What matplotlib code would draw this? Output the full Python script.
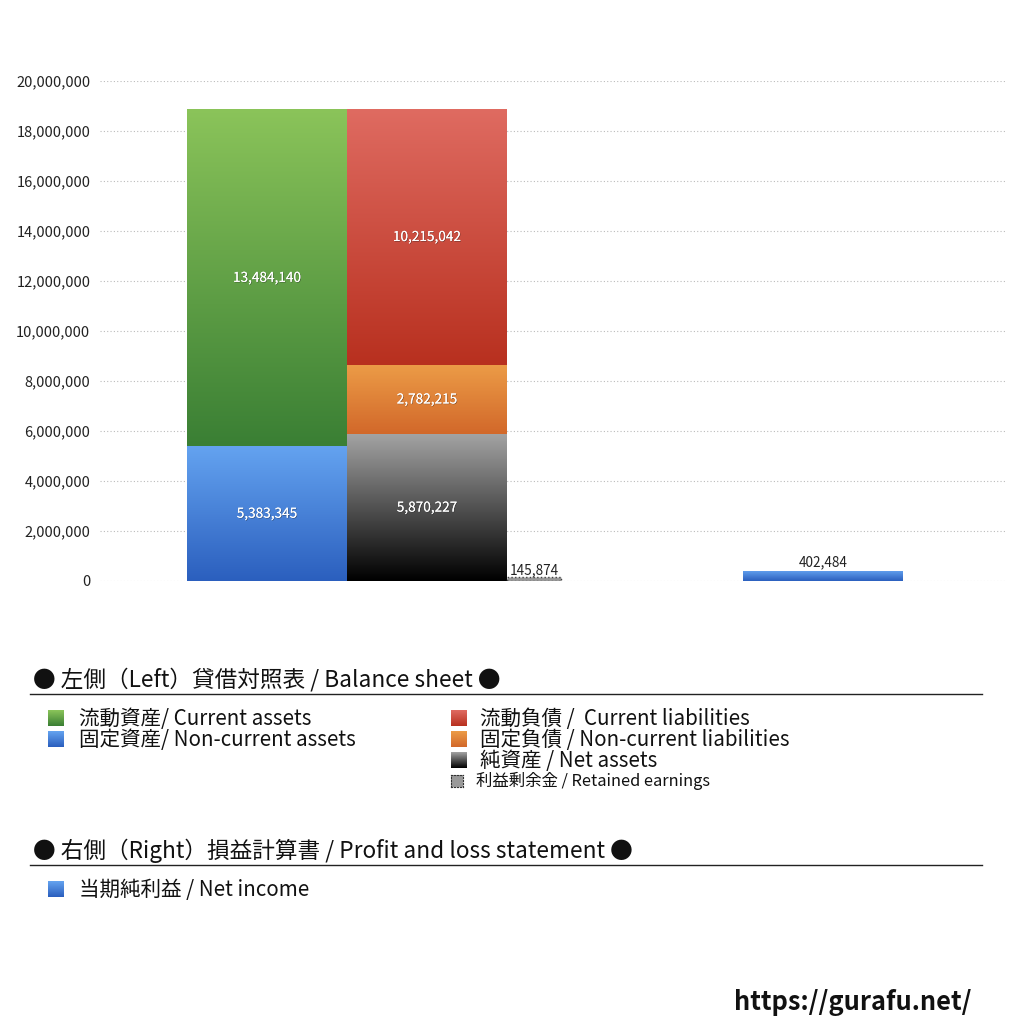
import numpy as np
import matplotlib
matplotlib.use('Agg')
import matplotlib.pyplot as plt
import matplotlib.patheffects as pe
from matplotlib.colors import LinearSegmentedColormap
from matplotlib.ticker import FuncFormatter

plt.rcParams['font.family'] = ['Noto Sans CJK JP', 'DejaVu Sans']

# 貸借対照表 (左) / 損益計算書 (右)
assets_labels = ['流動資産/ Current assets', '固定資産/ Non-current assets']
assets_values = [13484140, 5383345]          # 流動, 固定
liab_labels = ['流動負債 /  Current liabilities', '固定負債 / Non-current liabilities', '純資産 / Net assets']
liab_values = [10215042, 2782215, 5870227]   # 流動負債, 固定負債, 純資産
retained_earnings = 145874
net_income = 402484

yticks = np.arange(0, 20000001, 2000000)

# 色 (上, 下)
grad = {
    'green': ('#8bc45a', '#3a7f34'),
    'blue': ('#64a3f0', '#2b5fbe'),
    'red': ('#df6b61', '#b8301f'),
    'orange': ('#ec9c47', '#d2682a'),
    'black': ('#a3a3a3', '#000000'),
}

fig = plt.figure(figsize=(10.24, 10.24), dpi=100)
ax = fig.add_axes([100/1024, 1-581/1024, 905/1024, 500/1024])
ax.set_xlim(0, 905/160)
ax.set_ylim(0, 20000000)


def gbar(x, h, b, w, key):
    bars = ax.bar(x, h, bottom=b, width=w, align='edge', color=grad[key][1], linewidth=0, zorder=2)
    p = bars[0]
    cmap = LinearSegmentedColormap.from_list(key, [grad[key][1], grad[key][0]])
    img = ax.imshow(np.linspace(0, 1, 256).reshape(-1, 1), cmap=cmap, aspect='auto',
                    origin='lower', extent=[x, x + w, b, b + h], zorder=3)
    img.set_clip_path(p)
    return p


shadow = [pe.withSimplePatchShadow(offset=(0.5, -0.5), shadow_rgbFace='#222222', alpha=0.45), pe.Normal()]

# 左側: 資産
x1 = 87/160
bottom = 0
for val, key in zip(assets_values[::-1], ['blue', 'green']):
    gbar(x1, val, bottom, 1, key)
    ax.text(x1 + 0.5, bottom + val/2, f'{val:,}', color='white', ha='center', va='center',
            fontsize=9.8, zorder=5, path_effects=shadow)
    bottom += val

# 右側: 負債・純資産
x2 = x1 + 1
bottom = 0
for val, key in zip(liab_values[::-1], ['black', 'orange', 'red']):
    gbar(x2, val, bottom, 1, key)
    ax.text(x2 + 0.5, bottom + val/2, f'{val:,}', color='white', ha='center', va='center',
            fontsize=9.8, zorder=5, path_effects=shadow)
    bottom += val

# 利益剰余金
x3 = x2 + 1
w3 = 54/160
ax.bar(x3, retained_earnings, width=w3, align='edge', color='#9a9a9a', edgecolor='#444444',
       linestyle=':', linewidth=1, zorder=3)
ax.text(x3 + w3/2, retained_earnings, f'{retained_earnings:,}', color='#222222', ha='center',
        va='bottom', fontsize=9.8, zorder=5)

# 当期純利益
x4 = 643/160
gbar(x4, net_income, 0, 1, 'blue')
ax.text(x4 + 0.5, net_income + 60000, f'{net_income:,}', color='#222222', ha='center',
        va='bottom', fontsize=9.8, zorder=5)

ax.set_yticks(yticks)
ax.yaxis.set_major_formatter(FuncFormatter(lambda v, p: f'{int(v):,}'))
ax.tick_params(axis='y', length=0, pad=7, labelsize=10.5, labelcolor='#222222')
ax.set_xticks([])
ax.grid(axis='y', color='#bbbbbb', linestyle=(0, (1, 2)), linewidth=0.8, zorder=0)
for s in ax.spines.values():
    s.set_visible(False)


# 凡例 (figure 座標, pixel 指定)
def fx(px):
    return px/1024


def fy(py):
    return 1 - py/1024


def sq(px, py, key, size=16):
    a = fig.add_axes([fx(px), fy(py + size), size/1024, size/1024])
    a.imshow(np.linspace(0, 1, 64).reshape(-1, 1), aspect='auto', origin='lower',
             cmap=LinearSegmentedColormap.from_list('s' + key, [grad[key][1], grad[key][0]]))
    a.axis('off')


fig.text(fx(33), fy(680), '● 左側（Left）貸借対照表 / Balance sheet ●', fontsize=16.3,
         va='center', ha='left', color='#111111')
fig.add_artist(plt.Line2D([fx(30), fx(982)], [fy(694), fy(694)], color='#222222', linewidth=1))

for i, (lab, key) in enumerate(zip(assets_labels, ['green', 'blue'])):
    sq(48, 710 + i*21, key)
    fig.text(fx(79), fy(719 + i*21), lab, fontsize=14.8, va='center', color='#111111')

for i, (lab, key) in enumerate(zip(liab_labels, ['red', 'orange', 'black'])):
    sq(451, 710 + i*21, key)
    fig.text(fx(480), fy(719 + i*21), lab, fontsize=14.8, va='center', color='#111111')

ra = fig.add_axes([fx(451), fy(787), 12/1024, 12/1024])
ra.set_facecolor('#999999')
ra.set_xticks([])
ra.set_yticks([])
for s in ra.spines.values():
    s.set_linestyle(':')
    s.set_color('#333333')
fig.text(fx(476), fy(781), '利益剰余金 / Retained earnings', fontsize=11.8, va='center', color='#111111')

fig.text(fx(33), fy(851), '● 右側（Right）損益計算書 / Profit and loss statement ●', fontsize=16.3,
         va='center', ha='left', color='#111111')
fig.add_artist(plt.Line2D([fx(30), fx(982)], [fy(865), fy(865)], color='#222222', linewidth=1))
sq(48, 881, 'blue')
fig.text(fx(79), fy(890), '当期純利益 / Net income', fontsize=14.8, va='center', color='#111111')

fig.text(fx(972), fy(1003), 'https://gurafu.net/', fontsize=18.3, fontweight='bold', ha='right',
         va='center', color='#111111')

fig.savefig('out.png', dpi=100, facecolor='white')
